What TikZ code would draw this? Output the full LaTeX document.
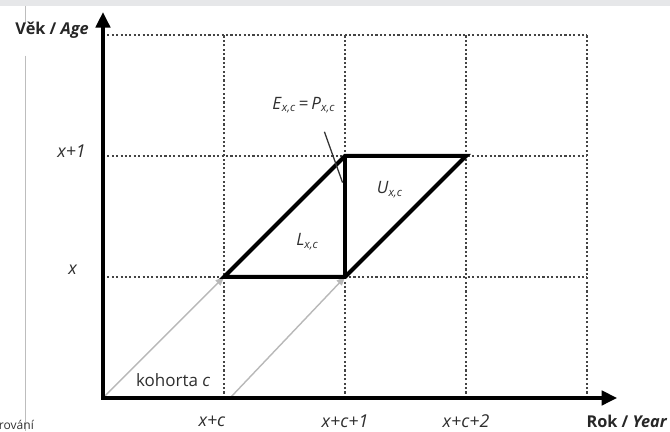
\documentclass[tikz,border=0pt]{standalone}
\usepackage{fontspec}
\setmainfont{Open Sans}
\usepackage{xcolor}
\usetikzlibrary{arrows.meta, positioning, calc}
\definecolor{lgrid}{HTML}{444444}
\definecolor{llabel}{HTML}{2E2E2E}
\definecolor{lcohort}{HTML}{B8B8B8}
\definecolor{lband}{HTML}{E6E7E9}
\definecolor{ledge}{HTML}{BDBDBD}
\newcommand{\lexsub}[1]{\textit{#1}\textsubscript{\textit{x,c}}}

\begin{document}
\begin{tikzpicture}[x=3cm, y=3cm,
  gridline/.style={lgrid, line width=1.6pt, dash pattern=on 1.5pt off 1.6pt},
  axisline/.style={line width=2.8pt, line join=miter,
    {Triangle[length=11pt, width=10pt]}-{Triangle[length=11pt, width=10pt]}},
  lexisedge/.style={line width=2.8pt, line join=miter},
  cohortline/.style={lcohort, line width=1pt, -{Triangle[length=6pt, width=5pt]}},
  axislabel/.style={font=\fontsize{11.5}{13}\selectfont\bfseries, text=black!85},
  ticklabel/.style={font=\fontsize{12.5}{14}\selectfont\itshape, text=llabel},
  celllabel/.style={font=\fontsize{12}{14}\selectfont, text=llabel}]

  \useasboundingbox (-0.851,-0.273) rectangle (4.686,3.289);

  %% page edge: grey band and margin rule
  \fill[lband] (-0.851,3.24) rectangle (4.686,3.289);
  \draw[ledge, line width=0.5pt] (-0.645,3.24) -- (-0.645,3.09);
  \draw[ledge, line width=0.5pt] (-0.645,2.83) -- (-0.645,-0.273);
  \node[font=\fontsize{8.5}{10}\selectfont, text=black!80, anchor=east] (margin) at (-0.53,-0.22) {rování};

  %% dotted grid
  \foreach \i in {1,...,4}
    \draw[gridline] (\i,0) -- (\i,3);
  \foreach \j in {1,2,3}
    \draw[gridline] (0,\j) -- (4,\j);

  %% corners
  \coordinate (o) at (0,0);
  \coordinate (ytip) at (0,3.19);
  \coordinate (xtip) at (4.25,0);
  \coordinate (la) at (1,1);
  \coordinate (lb) at (2,1);
  \coordinate (lc) at (3,2);
  \coordinate (ld) at (2,2);
  \coordinate (cs) at (1.05,0);

  %% cohort lines
  \draw[cohortline] (o) -- (la);
  \draw[cohortline] (cs) -- (lb);

  %% axes
  \draw[axisline] (ytip) -- (o) -- (xtip);

  %% Lexis parallelogram
  \draw[lexisedge] (la) -- (lb) -- (lc) -- (ld) -- cycle;
  \draw[lexisedge] (lb) -- (ld);

  %% axis labels
  \node[axislabel] (age) at (-0.42,3.04) {Věk / \textit{Age}};
  \node[axislabel] (year) at (4.33,-0.195) {Rok / \textit{Year}};
  \node[ticklabel] (tx1) at (-0.26,2.04) {x+1};
  \node[ticklabel] (tx) at (-0.25,1.06) {x};
  \node[ticklabel] (txc) at (0.90,-0.19) {x+c};
  \node[ticklabel] (txc1) at (2.00,-0.19) {x+c+1};
  \node[ticklabel] (txc2) at (3.00,-0.19) {x+c+2};

  %% cell labels
  \node[celllabel] (cohort) at (0.58,0.15) {kohorta \textit{c}};
  \node[celllabel] (lower) at (1.69,1.29) {\lexsub{L}};
  \node[celllabel] (upper) at (2.37,1.72) {\lexsub{U}};
  \node[celllabel] (ep) at (1.66,2.42) {\lexsub{E}\,=\,\lexsub{P}};
  \coordinate (lead) at (1.83,2.20);
  \coordinate (leadend) at (1.98,1.78);
  \draw[black!80, line width=0.9pt] (lead) -- (leadend);

\end{tikzpicture}
\end{document}
